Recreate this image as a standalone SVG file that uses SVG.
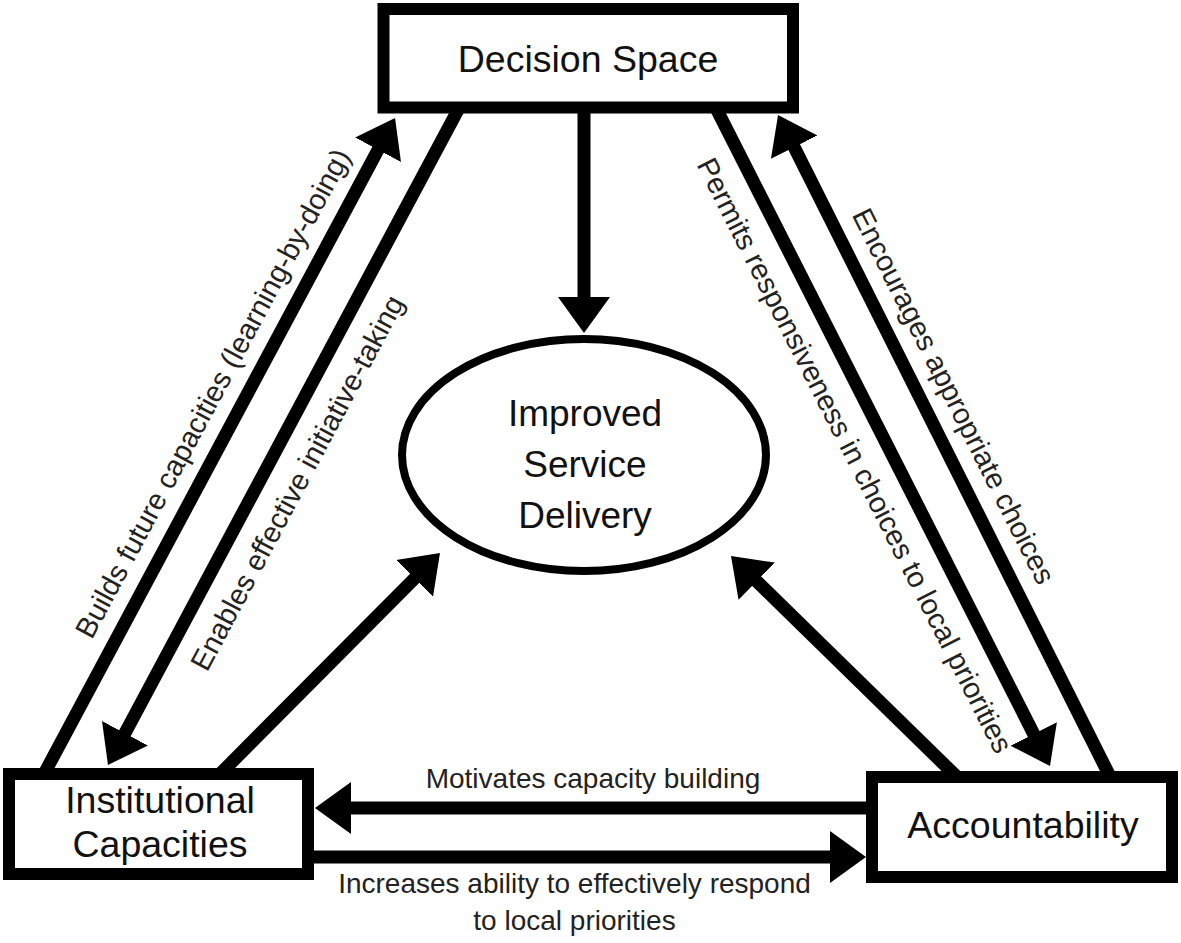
<svg xmlns="http://www.w3.org/2000/svg" width="1181" height="943" viewBox="0 0 1181 943">
  <style>
    .box { fill: #ffffff; stroke: #000000; stroke-width: 12; }
    .ell { fill: #ffffff; stroke: #000000; stroke-width: 8; }
    .conn { stroke: #000000; stroke-width: 13; fill: none; marker-end: url(#head); }
    .node-text { font-family: "Liberation Sans", Arial, sans-serif; font-size: 37.5px; fill: #111111; text-anchor: middle; }
    .lbl { font-family: "Liberation Sans", Arial, sans-serif; font-size: 29px; fill: #222222; text-anchor: middle; }
    .hlbl { font-family: "Liberation Sans", Arial, sans-serif; font-size: 28px; fill: #222222; text-anchor: middle; }
  </style>
  <defs>
    <marker id="head" markerUnits="userSpaceOnUse" markerWidth="40" markerHeight="56" viewBox="0 -28 40 56" refX="2" refY="0" orient="auto">
      <path d="M0,-26 L36,0 L0,26 Z" fill="#000000"/>
    </marker>
  </defs>
  <rect width="1181" height="943" fill="#ffffff"/>

  <g id="connectors">
    <line class="conn" x1="44" y1="774" x2="379" y2="148"/>
    <line class="conn" x1="459" y1="108" x2="124" y2="735"/>
    <line class="conn" x1="584" y1="108" x2="584" y2="299"/>
    <line class="conn" x1="220" y1="774" x2="416" y2="577"/>
    <line class="conn" x1="716" y1="108" x2="1034.6" y2="735.7"/>
    <line class="conn" x1="1110" y1="776.5" x2="793.3" y2="145.4"/>
    <line class="conn" x1="957" y1="777" x2="755.3" y2="579.8"/>
    <line class="conn" x1="872" y1="808" x2="349" y2="808"/>
    <line class="conn" x1="308" y1="857" x2="832" y2="857"/>
  </g>

  <g id="labels">
    <text class="lbl" transform="translate(221.5,398) rotate(-61.84)">Builds future capacities (learning-by-doing)</text>
    <text class="lbl" transform="translate(306,487.5) rotate(-61.9)">Enables effective initiative-taking</text>
    <text class="lbl" transform="translate(846,460) rotate(63.1)">Permits responsiveness in choices to local priorities</text>
    <text class="lbl" transform="translate(944.8,400.6) rotate(63.33)">Encourages appropriate choices</text>
    <text class="hlbl" x="593" y="788">Motivates capacity building</text>
    <text class="hlbl" x="574.5" y="893">Increases ability to effectively respond</text>
    <text class="hlbl" x="574.5" y="930">to local priorities</text>
  </g>

  <g id="decision-space">
    <rect class="box" x="383.5" y="9" width="409.5" height="98.5"/>
    <text class="node-text" x="588" y="72">Decision Space</text>
  </g>

  <g id="institutional-capacities">
    <rect class="box" x="9" y="774" width="299" height="100"/>
    <text class="node-text" x="160" y="813">Institutional</text>
    <text class="node-text" x="160" y="857">Capacities</text>
  </g>

  <g id="accountability">
    <rect class="box" x="872" y="777" width="300" height="100"/>
    <text class="node-text" x="1023" y="838">Accountability</text>
  </g>

  <g id="improved-service-delivery">
    <ellipse class="ell" cx="584" cy="455" rx="182" ry="116"/>
    <text class="node-text" x="585" y="426" style="font-size:37px">Improved</text>
    <text class="node-text" x="585" y="477" style="font-size:37px">Service</text>
    <text class="node-text" x="585" y="528" style="font-size:37px">Delivery</text>
  </g>
</svg>
